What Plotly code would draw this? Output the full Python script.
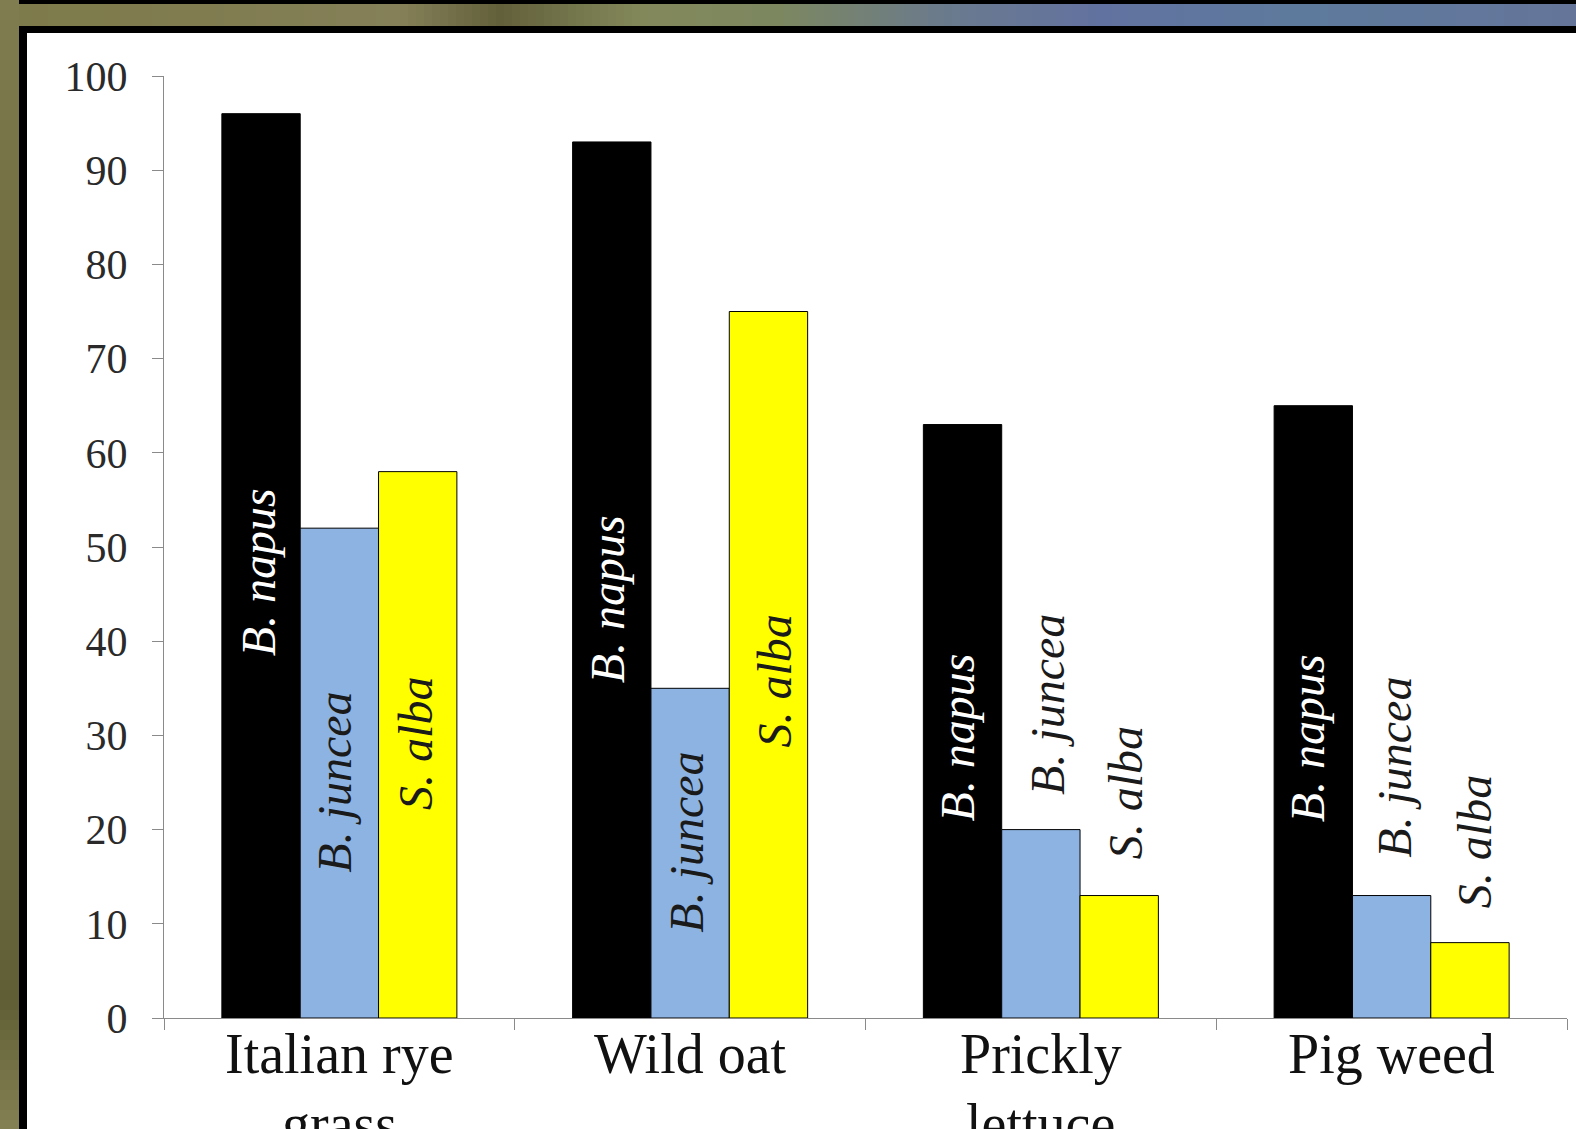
import plotly.graph_objects as go

# ---- data -------------------------------------------------------------
categories = ["Italian rye<br>grass", "Wild oat", "Prickly<br>lettuce", "Pig weed"]
series_names = ["B. napus", "B. juncea", "S. alba"]
b_napus = [96, 93, 63, 65]
b_juncea = [52, 35, 20, 13]
s_alba = [58, 75, 13, 8]
y_ticks = [0, 10, 20, 30, 40, 50, 60, 70, 80, 90, 100]

# ---- styling ----------------------------------------------------------
bar_colors = ["#000000", "#8DB3E2", "#FFFF00"]
label_colors = ["#FFFFFF", "#1a1a1a", "#1a1a1a"]
SERIF = "Liberation Serif, Times New Roman, serif"

W, H = 1576, 1129
L, R, T, B = 164, 9, 76, 111
PW, PH = W - L - R, H - T - B

# rotated species labels: lower end of each label (axis units) and a small pixel nudge
label_base = [
    [38.2, 15.2, 21.9],
    [35.3, 8.8, 28.5],
    [20.6, 23.5, 16.6],
    [20.6, 16.8, 11.5],
]
label_nudge = [
    [-3, -5, -3],
    [-4, -4, 6],
    [-5, 6, 6],
    [-5, 3, 4],
]

BARGAP = 0.33
bar_w = (1 - BARGAP) / 3

# category names: pixel row of each text line's centre
CAT_LINE_Y = [1054, 1124]


def fx(px):
    return (px - L) / PW


def fy(py):
    return (T + PH - py) / PH


fig = go.Figure()
for name, vals, col in zip(series_names, [b_napus, b_juncea, s_alba], bar_colors):
    fig.add_trace(go.Bar(
        x=list(range(len(categories))), y=vals, name=name,
        customdata=[c.replace("<br>", " ") for c in categories],
        marker=dict(color=col, line=dict(color="#000000", width=1)),
        hovertemplate="%{customdata}<br>" + name + ": %{y}<extra></extra>",
    ))

annotations = []
# species names written vertically on / above each bar
for ci in range(len(categories)):
    for si in range(3):
        annotations.append(dict(
            x=ci + (si - 1) * bar_w, y=label_base[ci][si],
            xref="x", yref="y", xanchor="center", yanchor="bottom",
            xshift=label_nudge[ci][si],
            text=series_names[si], textangle=-90, showarrow=False,
            font=dict(family=SERIF, size=48, color=label_colors[si], style="italic"),
        ))

# category names under the axis
for ci, cat in enumerate(categories):
    for li, line in enumerate(cat.split("<br>")):
        annotations.append(dict(
            x=ci, y=fy(CAT_LINE_Y[li]), xref="x", yref="paper",
            xanchor="center", yanchor="middle", showarrow=False,
            text=line, font=dict(family=SERIF, size=56, color="#111111"),
        ))

# slide frame: dark backdrop, olive/blue band on top, olive strip at left, white panel
shapes = []
band_stops = [
    (0, (125, 122, 74)), (200, (128, 124, 80)), (400, (133, 128, 88)),
    (500, (98, 96, 58)), (640, (131, 136, 90)), (780, (124, 135, 96)),
    (950, (106, 122, 142)), (1100, (98, 114, 160)), (1300, (93, 122, 156)),
    (1576, (101, 117, 154)),
]
seg = 8
for x0 in range(0, W, seg):
    xm = x0 + seg / 2
    for (a, ca), (b, cb) in zip(band_stops[:-1], band_stops[1:]):
        if a <= xm <= b:
            t = (xm - a) / (b - a)
            c = tuple(int(round(ca[k] + (cb[k] - ca[k]) * t)) for k in range(3))
            break
    shapes.append(dict(type="rect", xref="paper", yref="paper", layer="below",
                       x0=fx(x0), x1=fx(x0 + seg + 1), y0=fy(26), y1=fy(4),
                       fillcolor="rgb(%d,%d,%d)" % c, line=dict(width=0)))

strip_stops = [(0, (128, 126, 80)), (300, (110, 106, 62)), (500, (122, 118, 78)),
               (700, (116, 114, 74)), (1000, (96, 94, 52)), (1129, (132, 130, 84))]
seg_y = 10
for y0 in range(0, H, seg_y):
    ym = y0 + seg_y / 2
    for (a, ca), (b, cb) in zip(strip_stops[:-1], strip_stops[1:]):
        if a <= ym <= b:
            t = (ym - a) / (b - a)
            c = tuple(int(round(ca[k] + (cb[k] - ca[k]) * t)) for k in range(3))
            break
    shapes.append(dict(type="rect", xref="paper", yref="paper", layer="below",
                       x0=fx(0), x1=fx(19), y0=fy(y0 + seg_y + 1), y1=fy(y0),
                       fillcolor="rgb(%d,%d,%d)" % c, line=dict(width=0)))

shapes.append(dict(type="rect", xref="paper", yref="paper", layer="below",
                   x0=fx(27), x1=fx(W + 5), y0=fy(H + 5), y1=fy(33),
                   fillcolor="#FFFFFF", line=dict(width=0)))

fig.update_layout(
    width=W, height=H,
    margin=dict(l=L, r=R, t=T, b=B, autoexpand=False),
    paper_bgcolor="#000000",
    plot_bgcolor="#FFFFFF",
    barmode="group", bargap=BARGAP, bargroupgap=0,
    showlegend=False,
    shapes=shapes,
    annotations=annotations,
    xaxis=dict(
        type="linear", range=[-0.5, len(categories) - 0.5],
        tickvals=[i - 0.5 for i in range(len(categories) + 1)],
        showticklabels=False,
        showline=True, linecolor="#8a8a8a", linewidth=1,
        ticks="outside", ticklen=11, tickcolor="#8a8a8a",
        showgrid=False, zeroline=False, automargin=False, fixedrange=True,
    ),
    yaxis=dict(
        range=[0, 100], tickvals=y_ticks,
        showline=True, linecolor="#8a8a8a", linewidth=1,
        ticks="outside", ticklen=11, tickcolor="#8a8a8a",
        tickfont=dict(family=SERIF, size=42, color="#2a2a2a"),
        ticklabelstandoff=16,
        showgrid=False, zeroline=False, automargin=False, fixedrange=True,
    ),
)

fig.write_html("out.html", config={"displayModeBar": False})
